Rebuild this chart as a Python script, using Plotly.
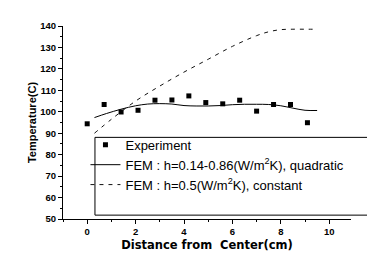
import plotly.graph_objects as go

# Experimental data
exp_x = [0.0, 0.7, 1.4, 2.1, 2.8, 3.5, 4.2, 4.9, 5.6, 6.3, 7.0, 7.7, 8.4, 9.1]
exp_t = [94.4, 103.4, 99.9, 100.7, 105.4, 105.5, 107.4, 104.3, 103.7, 105.4, 100.3, 103.4, 103.4, 94.9]

# FEM quadratic h
quad_x = [0.3, 0.8, 1.4, 2.0, 2.5, 3.0, 3.5, 4.0, 4.5, 5.0, 5.5, 6.0, 6.5, 7.0, 7.5, 8.0, 8.5, 9.0, 9.5]
quad_t = [97.3, 99.2, 101.2, 102.8, 103.6, 103.8, 103.6, 102.9, 102.7, 102.7, 102.9, 103.3, 103.5, 103.5, 103.4, 102.8, 101.7, 100.7, 100.6]

# FEM constant h
const_x = [0.3, 1.0, 2.0, 3.0, 4.0, 5.0, 6.0, 7.0, 7.5, 8.0, 8.5, 9.0, 9.5]
const_t = [90.0, 96.5, 105.0, 112.0, 118.5, 124.5, 130.5, 135.5, 137.3, 138.3, 138.5, 138.5, 138.5]

names = ["Experiment",
         "FEM : h=0.14-0.86(W/m<sup>2</sup>K), quadratic",
         "FEM : h=0.5(W/m<sup>2</sup>K), constant"]

fig = go.Figure()
fig.add_trace(go.Scatter(x=exp_x, y=exp_t, mode="markers", name=names[0],
                         marker=dict(symbol="square", size=5, color="black")))
fig.add_trace(go.Scatter(x=quad_x, y=quad_t, mode="lines", name=names[1],
                         line=dict(color="black", width=1, shape="spline")))
fig.add_trace(go.Scatter(x=const_x, y=const_t, mode="lines", name=names[2],
                         line=dict(color="#111", width=1, dash="4px,5px", shape="spline")))

# legend frame
fig.add_shape(type="rect", xref="paper", yref="paper",
              x0=0.111, x1=1.12, y0=0.02, y1=0.423,
              line=dict(color="black", width=1), fillcolor="white", layer="below")

tickfont = dict(family="Arial, Liberation Sans", size=9.5, color="black", weight="bold")
fig.update_layout(
    width=375, height=253,
    margin=dict(l=55, r=32, t=16, b=36),
    plot_bgcolor="white", paper_bgcolor="white",
    showlegend=True,
    legend=dict(x=0.078, y=0.462, xanchor="left", yanchor="top",
                bgcolor="rgba(0,0,0,0)", borderwidth=0,
                font=dict(family="Arial, Liberation Sans", size=13, color="black"),
                tracegroupgap=0),
    xaxis=dict(range=[-1.0, 10.9], showgrid=False, zeroline=False,
               showline=True, linecolor="black", linewidth=1,
               ticks="outside", ticklen=4, tickwidth=1, tickcolor="black",
               dtick=2, tick0=0, tickfont=tickfont,
               minor=dict(dtick=1, ticks="outside", ticklen=2, tickcolor="black"),
               title=dict(text="Distance from  Center(cm)", standoff=4,
                          font=dict(family="DejaVu Sans", size=11.5, color="black", weight="bold"))),
    yaxis=dict(range=[50, 140], showgrid=False, zeroline=False,
               showline=True, linecolor="black", linewidth=1,
               ticks="outside", ticklen=4, tickwidth=1, tickcolor="black",
               dtick=10, tick0=50, tickfont=tickfont,
               minor=dict(dtick=5, ticks="outside", ticklen=2, tickcolor="black"),
               title=dict(text="Temperature(C)", standoff=1,
                          font=dict(family="Arial, Liberation Sans", size=11, color="black", weight="bold"))),
)

fig.write_html("out.html")
